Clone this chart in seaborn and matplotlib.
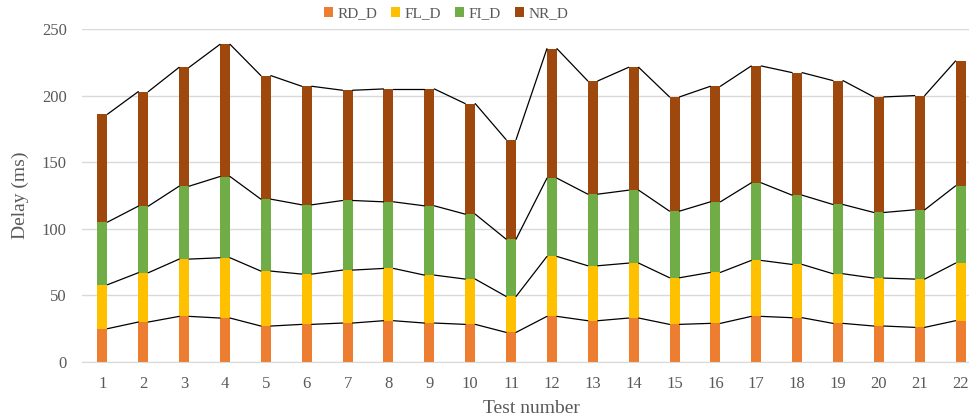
import seaborn as sns
import matplotlib.pyplot as plt
import numpy as np

sns.set_style("white")
plt.rcParams['font.family'] = ['Liberation Serif', 'DejaVu Serif']

# Delay components per test (ms)
tests = [str(i) for i in range(1, 23)]
rd_d = [25, 30, 34.25, 33, 27, 28.25, 29.25, 31, 29.25, 28.25, 22.25,
        34.25, 31, 33, 28.25, 29, 34.25, 33.25, 29, 27, 26, 31]
fl_d = [33, 37, 43, 45.25, 41.25, 37.75, 39.75, 39.25, 36, 34, 27,
        45, 41.25, 41.25, 35, 38.25, 42, 40, 37.25, 36, 36.25, 43.25]
fi_d = [47, 50, 54.75, 61, 54, 52, 52.25, 50, 52, 48.75, 43,
        58.75, 53.75, 54.75, 50, 53, 58.25, 52, 52, 49.25, 52, 58]
nr_d = [81, 86, 89.25, 99.25, 92.75, 89, 82.75, 84.75, 87.75, 83, 74.75,
        97.25, 85, 92.25, 85.75, 86.75, 87.75, 92, 93, 86.75, 85.75, 93.75]

series = [("RD_D", rd_d, "#ED7D31"), ("FL_D", fl_d, "#FFC000"),
          ("FI_D", fi_d, "#70AD47"), ("NR_D", nr_d, "#9E480E")]

fig = plt.figure(figsize=(9.69, 4.19), dpi=100)
ax = fig.add_axes([82 / 969, 57 / 419, 899 / 969, 333 / 419])

w = 0.245
bottom = np.zeros(len(tests))
for name, vals, col in series:
    sns.barplot(x=tests, y=vals, bottom=bottom, color=col, width=w,
                label=name, errorbar=None, saturation=1, ax=ax, linewidth=0)
    top = bottom + np.array(vals)
    # series lines joining the tops of neighbouring segments
    for i in range(len(tests) - 1):
        ax.plot([i + w / 2, i + 1 - w / 2], [top[i], top[i + 1]],
                color="black", lw=0.9, zorder=3)
    bottom = top

ax.set_xlim(-0.5, 21.5)
ax.set_ylim(0, 250)
ax.set_yticks(range(0, 251, 50))
ax.yaxis.grid(True, color="#d9d9d9", lw=1)
ax.set_axisbelow(True)
for s in ["top", "right", "left"]:
    ax.spines[s].set_visible(False)
ax.spines["bottom"].set_color("#d9d9d9")
ax.tick_params(axis="both", length=0, labelsize=12, colors="#595959")
ax.tick_params(axis="y", pad=11)
ax.tick_params(axis="x", pad=10)
ax.set_xlabel("Test number", fontsize=14, color="#595959", labelpad=6)
ax.set_ylabel("Delay (ms)", fontsize=14, color="#595959", labelpad=9)

leg = ax.legend(loc="center", bbox_to_anchor=(446 / 969, 1 - 14 / 419),
                bbox_transform=fig.transFigure, ncol=4, frameon=False,
                fontsize=11, handlelength=0.6, handleheight=0.6,
                handletextpad=0.3, columnspacing=0.9)
for t in leg.get_texts():
    t.set_color("#595959")

plt.savefig("out.png", dpi=100)
plt.close()
